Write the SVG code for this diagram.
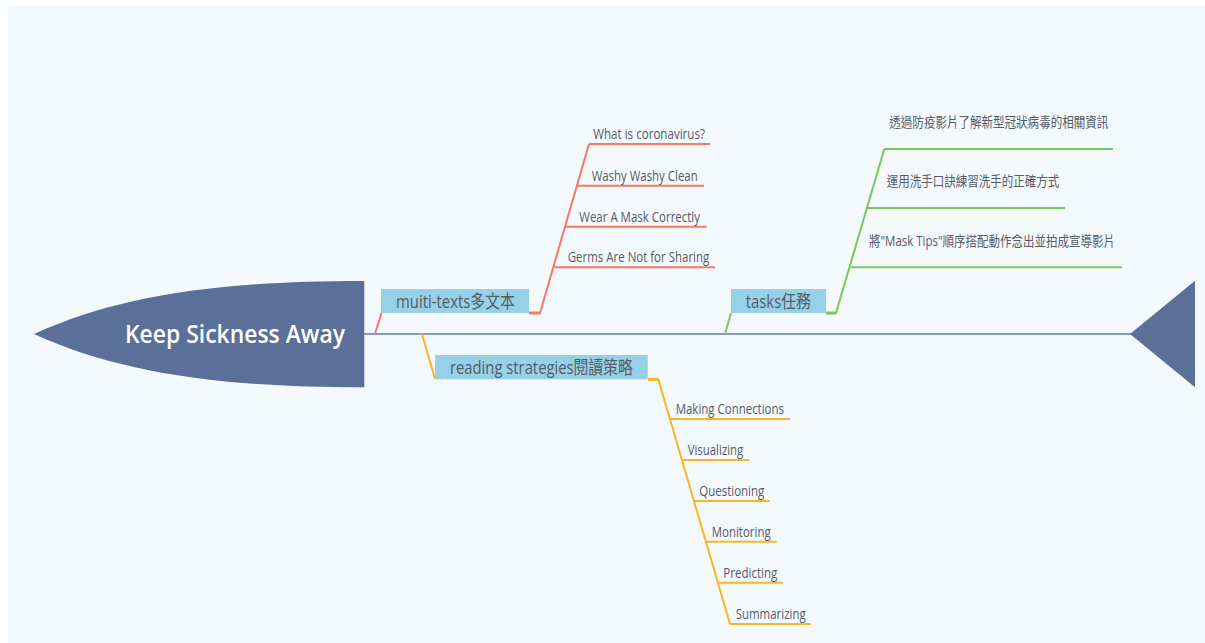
<svg xmlns="http://www.w3.org/2000/svg" width="1205" height="643" viewBox="0 0 1205 643">
<style>
.bg{fill:#f4f9fd}
.fish{fill:#5a7098}
.spine{stroke:#8a9aba;stroke-width:2;fill:none}
.red{stroke:#f87864;fill:none;stroke-width:2}
.grn{stroke:#7cc855;fill:none;stroke-width:2}
.org{stroke:#fbb523;fill:none;stroke-width:2}
.box{fill:#96d1e7}
.t{font-family:"Open Sans","Noto Sans CJK TC",sans-serif;fill:#555b66}
.sub{font-size:14.5px}
.cjk{font-size:14px}
.main{font-size:18px}
.title{font-family:"Open Sans",sans-serif;font-weight:600;font-size:26px;fill:#ffffff}
</style>
<rect class="bg" x="8" y="5" width="1197" height="638"/>
<g id="connectors">
<line class="spine" x1="364" y1="334" x2="1132" y2="334"/>
<path class="red" d="M375,334 L381.5,313"/>
<path class="red" d="M529,313 H540 L589,144"/>
<path class="red" style="stroke-width:3" d="M529,313 H540"/>
<path class="red" d="M589,144 H710 M577,185.7 H704 M565.7,226.7 H706.7 M554.3,267.3 H715"/>
<path class="grn" d="M725,334 L731,313"/>
<path class="grn" d="M826,313 H836 L884.3,149"/>
<path class="grn" style="stroke-width:3" d="M826,313 H836"/>
<path class="grn" d="M884.3,149 H1113 M866.7,208 H1065 M850.7,267.3 H1121.7"/>
<path class="org" d="M422,334 L435,379"/>
<path class="org" d="M648,379.3 H658.3 L730,624"/>
<path class="org" style="stroke-width:3" d="M648,379.3 H658.3"/>
<path class="org" d="M671,419 H790 M682.7,460 H749.3 M695,501 H770 M706.7,541.7 H776.7 M718.3,582.7 H782.7 M730,624 H811"/>
</g>
<g id="head">
<path class="fish" d="M34,334 C120,295 220,281 364.3,281 L364.3,387.3 C220,387.3 120,373 34,334 Z"/>
<text class="title" x="125" y="343" textLength="220" lengthAdjust="spacingAndGlyphs">Keep Sickness Away</text>
</g>
<g id="tail">
<path class="fish" d="M1130,334 L1195,280.7 L1195,387.3 Z"/>
</g>
<g id="muiti-texts">
<rect class="box" x="381" y="289" width="148" height="24"/>
<text class="t main" x="396" y="307.5" textLength="119" lengthAdjust="spacingAndGlyphs">muiti-texts多文本</text>
</g>
<g id="red-1"><text class="t sub" x="593.3" y="139.3" textLength="111.7" lengthAdjust="spacingAndGlyphs">What is coronavirus?</text></g>
<g id="red-2"><text class="t sub" x="591.7" y="180.7" textLength="106" lengthAdjust="spacingAndGlyphs">Washy Washy Clean</text></g>
<g id="red-3"><text class="t sub" x="579.3" y="221.7" textLength="120.7" lengthAdjust="spacingAndGlyphs">Wear A Mask Correctly</text></g>
<g id="red-4"><text class="t sub" x="567.7" y="262.3" textLength="141.6" lengthAdjust="spacingAndGlyphs">Germs Are Not for Sharing</text></g>
<g id="tasks">
<rect class="box" x="731" y="289" width="95" height="24"/>
<text class="t main" x="745.7" y="308" textLength="65.3" lengthAdjust="spacingAndGlyphs">tasks任務</text>
</g>
<g id="green-1"><text class="t cjk" x="889.3" y="127" textLength="219" lengthAdjust="spacingAndGlyphs">透過防疫影片了解新型冠狀病毒的相關資訊</text></g>
<g id="green-2"><text class="t cjk" x="886.7" y="186" textLength="172.6" lengthAdjust="spacingAndGlyphs">運用洗手口訣練習洗手的正確方式</text></g>
<g id="green-3"><text class="t cjk" x="869" y="246" textLength="246" lengthAdjust="spacingAndGlyphs">將"Mask Tips"順序搭配動作念出並拍成宣導影片</text></g>
<g id="reading">
<rect class="box" x="435" y="355" width="212.7" height="24.3"/>
<text class="t main" x="450" y="373.5" textLength="182.7" lengthAdjust="spacingAndGlyphs">reading strategies閱讀策略</text>
</g>
<g id="orange-1"><text class="t sub" x="675.7" y="414" textLength="108.3" lengthAdjust="spacingAndGlyphs">Making Connections</text></g>
<g id="orange-2"><text class="t sub" x="687.7" y="455" textLength="55.6" lengthAdjust="spacingAndGlyphs">Visualizing</text></g>
<g id="orange-3"><text class="t sub" x="699.3" y="496" textLength="65" lengthAdjust="spacingAndGlyphs">Questioning</text></g>
<g id="orange-4"><text class="t sub" x="711.7" y="536.7" textLength="59" lengthAdjust="spacingAndGlyphs">Monitoring</text></g>
<g id="orange-5"><text class="t sub" x="723.3" y="577.7" textLength="54" lengthAdjust="spacingAndGlyphs">Predicting</text></g>
<g id="orange-6"><text class="t sub" x="735.7" y="619.3" textLength="70" lengthAdjust="spacingAndGlyphs">Summarizing</text></g>
</svg>
